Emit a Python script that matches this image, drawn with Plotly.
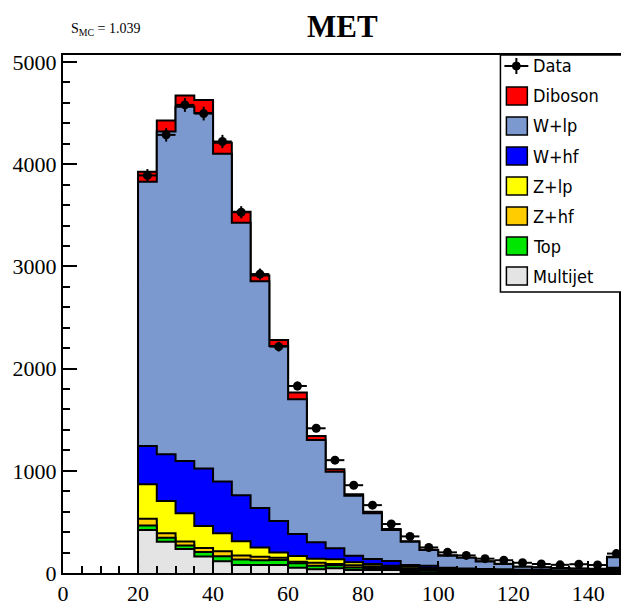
import numpy as np
import plotly.graph_objects as go

# MET histogram: 5 GeV bins from 20 to 150
bin_lo = [20, 25, 30, 35, 40, 45, 50, 55, 60, 65, 70, 75, 80, 85, 90, 95,
          100, 105, 110, 115, 120, 125, 130, 135, 140, 145]
bin_width = 5

data_counts = [3890, 4287, 4580, 4495, 4222, 3530, 2925, 2215, 1830, 1416, 1104, 859,
               664, 479, 358, 250, 202, 172, 140, 125, 100, 88, 80, 86, 78, 190]

# Background components (bottom of stack first)
multijet = [421, 306, 235, 161, 115, 78, 78, 78, 52, 36, 46, 29, 29, 29, 10, 8,
            6, 5, 4, 4, 3, 3, 3, 2, 2, 6]
top = [44, 39, 35, 44, 50, 54, 47, 49, 43, 36, 29, 26, 21, 16, 20, 16,
       14, 12, 11, 10, 9, 8, 7, 7, 6, 14]
z_hf = [65, 45, 38, 40, 47, 40, 35, 23, 16, 28, 13, 20, 15, 13, 15, 12,
        10, 9, 8, 7, 6, 6, 5, 5, 4, 10]
z_lp = [339, 315, 277, 215, 178, 138, 90, 50, 55, 40, 46, 30, 23, 13, 15, 12,
        10, 9, 8, 7, 6, 6, 5, 5, 4, 10]
w_hf = [374, 457, 512, 562, 505, 450, 386, 310, 216, 160, 108, 64, 49, 46, 18, 22,
        12, 10, 9, 8, 7, 6, 6, 5, 5, 12]
w_lp = [2585, 3158, 3466, 3480, 3207, 2668, 2219, 1710, 1317, 1002, 748, 586,
        448, 303, 228, 155, 118, 103, 72, 52, 29, 26, 22, 18, 19, 103]
diboson = [98, 107, 108, 127, 107, 107, 55, 59, 66, 39, 26, 16, 15, 10, 4, 3,
           3, 2, 2, 2, 2, 2, 2, 2, 2, 5]

components = [
    ("Multijet", multijet, "#e4e4e4"),
    ("Top", top, "#00e600"),
    ("Z+hf", z_hf, "#ffcc00"),
    ("Z+lp", z_lp, "#ffff00"),
    ("W+hf", w_hf, "#0000ff"),
    ("W+lp", w_lp, "#7b98cf"),
    ("Diboson", diboson, "#ff0000"),
]

scale_text = "S<sub>MC</sub> = 1.039"

lo = np.array(bin_lo, dtype=float)
edges = np.append(lo, lo[-1] + bin_width)
centers = lo + bin_width / 2

fig = go.Figure()

# cumulative stack tops, drawn from the full stack downwards so each
# lower histogram paints over the one above it (ROOT THStack style)
cum = np.cumsum([np.array(c[1], dtype=float) for c in components], axis=0)
for idx in range(len(components) - 1, -1, -1):
    vals = cum[idx]
    xs = np.concatenate([[edges[0]], edges[:-1], [edges[-1], edges[-1]]])
    ys = np.concatenate([[0], vals, [vals[-1], 0]])
    fig.add_trace(go.Scatter(
        x=xs, y=ys, mode="lines", line=dict(shape="hv", color="black", width=2),
        fill="tozeroy", fillcolor=components[idx][2], name=components[idx][0],
        showlegend=False, hoverinfo="skip"))

counts = np.array(data_counts, dtype=float)
fig.add_trace(go.Scatter(
    x=centers, y=counts, mode="markers", name="Data", showlegend=False,
    marker=dict(symbol="circle", size=9, color="black"),
    error_x=dict(type="constant", value=bin_width / 2, thickness=2, width=0, color="black"),
    error_y=dict(type="data", array=np.sqrt(counts), thickness=2, width=0, color="black"),
))

# plot area geometry in pixels
W, H = 621, 610
ML, MR, MT, MB = 63, 0, 55, 37
pw, ph = W - ML - MR, H - MT - MB


def px(xp):
    return (xp - ML) / pw


def py(yp):
    return (H - MB - yp) / ph


# legend box
shapes = [dict(type="rect", xref="paper", yref="paper", x0=px(502), x1=px(640),
               y0=py(292), y1=py(MT), line=dict(color="black", width=1.5),
               fillcolor="white", layer="above")]
annotations = []
legend_rows = [("Data", None)] + [(c[0], c[2]) for c in reversed(components)]
for i, (label, color) in enumerate(legend_rows):
    yc = 66 + 30 * i
    if color is None:
        shapes.append(dict(type="line", xref="paper", yref="paper", x0=px(506), x1=px(530),
                           y0=py(yc), y1=py(yc), line=dict(color="black", width=2), layer="above"))
        shapes.append(dict(type="line", xref="paper", yref="paper", x0=px(518), x1=px(518),
                           y0=py(yc - 8), y1=py(yc + 8), line=dict(color="black", width=2), layer="above"))
        shapes.append(dict(type="circle", xref="paper", yref="paper", x0=px(514), x1=px(522),
                           y0=py(yc + 4), y1=py(yc - 4), fillcolor="black",
                           line=dict(color="black", width=1), layer="above"))
    else:
        shapes.append(dict(type="rect", xref="paper", yref="paper", x0=px(508), x1=px(529),
                           y0=py(yc + 9), y1=py(yc - 9), fillcolor=color,
                           line=dict(color="black", width=1.5), layer="above"))
    annotations.append(dict(xref="paper", yref="paper", x=px(533), y=py(yc), text=label,
                            showarrow=False, xanchor="left", yanchor="middle",
                            font=dict(family="DejaVu Sans Condensed, Liberation Sans Narrow, Liberation Sans",
                                      size=18, color="black")))

annotations.append(dict(xref="paper", yref="paper", x=px(344), y=py(26), text="<b>MET</b>",
                        showarrow=False, xanchor="center", yanchor="middle",
                        font=dict(family="Liberation Serif", size=31, color="black")))
annotations.append(dict(xref="paper", yref="paper", x=px(69), y=py(30), text=scale_text,
                        showarrow=False, xanchor="left", yanchor="middle",
                        font=dict(family="Liberation Serif", size=14, color="black")))

axis_font = dict(family="Liberation Serif", size=22, color="black")
fig.update_layout(
    width=W, height=H, margin=dict(l=ML, r=MR, t=MT, b=MB),
    paper_bgcolor="white", plot_bgcolor="white", showlegend=False,
    shapes=shapes, annotations=annotations,
    xaxis=dict(range=[0, (pw) / 3.765], tickmode="linear", tick0=0, dtick=20,
               ticks="inside", ticklen=12, tickwidth=1.5, tickcolor="black",
               minor=dict(dtick=5, ticks="inside", ticklen=7, tickwidth=1.5, tickcolor="black"),
               showline=True, linecolor="black", linewidth=2, mirror=True,
               showgrid=False, zeroline=False, tickfont=axis_font),
    yaxis=dict(range=[0, 5000 * (H - MB - MT) / 511], tickmode="linear", tick0=0, dtick=1000,
               ticks="inside", ticklen=14, tickwidth=1.5, tickcolor="black",
               minor=dict(dtick=200, ticks="inside", ticklen=7, tickwidth=1.5, tickcolor="black"),
               showline=True, linecolor="black", linewidth=2, mirror=True,
               showgrid=False, zeroline=False, tickfont=axis_font),
)

fig.write_html("out.html")
